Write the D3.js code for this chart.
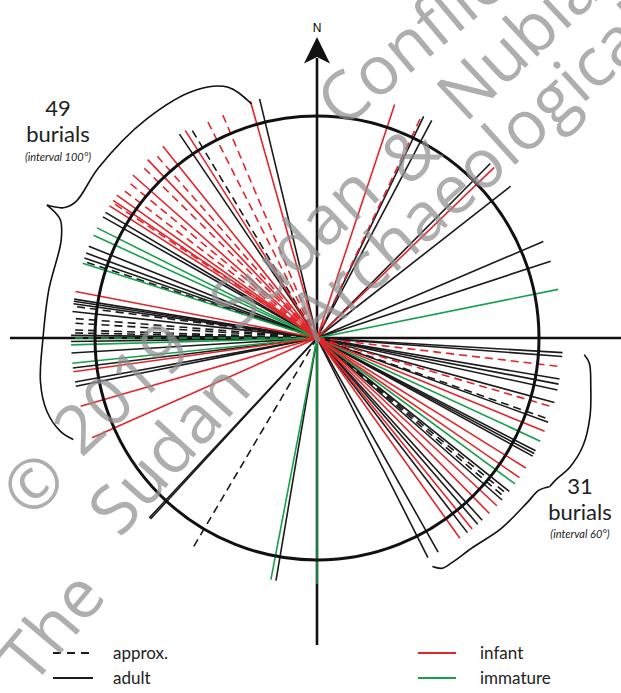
<!DOCTYPE html>
<html><head><meta charset="utf-8">
<script src="https://cdn.jsdelivr.net/npm/d3@7"></script>
<style>body{margin:0;background:#fff} svg{display:block}</style>
</head><body>
<svg id="c" width="621" height="693"></svg>
<script>
// ---- data: burial orientations (bearing in degrees, clockwise from N) ----
const adultSolid = [346.5, 326.0, 300.7, 299.5, 291.9, 290.2, 289.0, 279.1, 278.6, 278.0, 276.2, 270.6, 269.2, 266.5, 263.0, 259.7, 258.7,
  25.7, 27.8, 44.8, 51.9, 66.9, 71.8,
  93.4, 94.3, 99.6, 100.8, 102.2, 105.2, 110.0, 117.3, 118.0, 118.7, 128.6, 131.2, 137.8, 139.2, 142.3, 150.5, 153.2,
  222.6, 223.0, 189.6];
const adultApprox = [329.0, 288.2, 277.4, 274.6, 273.5, 271.9, 271.2, 109.3, 129.4, 130.3, 210.6];
const infantSolid = [344.3, 327.6, 321.2, 316.5, 311.5, 305.5, 304.0, 302.5, 280.9, 262.1, 253.9, 246.1,
  18.4, 46.1, 112.3, 121.9, 124.6, 133.0, 135.5, 140.9, 144.5];
const infantApprox = [337.1, 333.2, 318.7, 314.5, 309.6, 307.4, 303.5, 25.2, 96.7, 106.3];
const immatureSolid = [296.6, 294.7, 287.7, 268.4, 264.1, 78.6, 114.8, 126.4, 190.8, 180.0];
const immatureApprox = [270.0];

const groupLabels = ["49", "31"];
const groupIntervals = ["(interval 100°)", "(interval 60°)"];
const legendStyle = ["approx.", "adult"];
const legendAge = ["infant", "immature"];
// watermark words
const watermarkWords = ["Conflict", "©", "2019", "Sudan", "&", "Nubia", "The", "Sudan", "Archaeological"];

// ---- layout ----
const W = 621, H = 693, cx = 317, cy = 338, R = 222;
const rayLength = 1.108;
const colors = {adult: "#1a1a1a", infant: "#e2252b", immature: "#17a04b"};
const svg = d3.select("#c");
const rScale = d3.scaleLinear().domain([0, 1]).range([0, R]);
const aScale = d3.scaleLinear().domain([0, 360]).range([0, 2 * Math.PI]);
function pt(b, r) {
  const a = aScale(b), rr = rScale(r);
  return [cx + rr * Math.sin(a), cy - rr * Math.cos(a)];
}

// axes
const axisTop = 58, axisBottom = 645;
svg.append("line").attr("x1", cx).attr("x2", cx).attr("y1", axisTop).attr("y2", axisBottom)
  .attr("stroke", "#111").attr("stroke-width", 2.6);
svg.append("line").attr("x1", 10).attr("x2", W).attr("y1", cy).attr("y2", cy)
  .attr("stroke", "#111").attr("stroke-width", 2.6);
// north arrow
svg.append("path").attr("d", `M${cx},37 L${cx + 13},63.5 L${cx},57 L${cx - 13},63.5 Z`).attr("fill", "#111");
svg.append("text").attr("x", cx).attr("y", 32).attr("text-anchor", "middle")
  .attr("font-family", "Liberation Sans, Arial, sans-serif").attr("font-size", 12).text("N");

// rays
const rays = [];
adultSolid.forEach(b => rays.push({b, g: "adult", d: false}));
adultApprox.forEach(b => rays.push({b, g: "adult", d: true}));
immatureSolid.forEach(b => rays.push({b, g: "immature", d: false}));
immatureApprox.forEach(b => rays.push({b, g: "immature", d: true}));
infantSolid.forEach(b => rays.push({b, g: "infant", d: false}));
infantApprox.forEach(b => rays.push({b, g: "infant", d: true}));

svg.append("g").selectAll("line").data(rays).join("line")
  .attr("x1", cx).attr("y1", cy)
  .attr("x2", d => pt(d.b, rayLength)[0]).attr("y2", d => pt(d.b, rayLength)[1])
  .attr("stroke", d => colors[d.g]).attr("stroke-width", 1.6)
  .attr("stroke-dasharray", d => d.d ? "8,5" : null);

// circle
svg.append("circle").attr("cx", cx).attr("cy", cy).attr("r", rScale(1))
  .attr("fill", "none").attr("stroke", "#111").attr("stroke-width", 3);

// braces (polar points: bearing, radius in px)
const braceLine = d3.line().curve(d3.curveCatmullRom.alpha(0.5));
function polarPath(pts) { return braceLine(pts.map(p => pt(p[0], p[1] / R))); }
const braces = [
  [[344.4, 243], [340.5, 266], [334, 276], [322, 277.5], [308, 277], [299.5, 277], [297.2, 285], [296.2, 301]],
  [[296.2, 301], [294.8, 283], [291, 274], [280, 272.5], [270, 274], [261, 280], [255, 280], [250, 273], [247.4, 264]],
  [[93.6, 267.8], [95.3, 273.5], [100, 278], [106, 284], [112, 287], [117, 284], [120.5, 278], [122.6, 276]],
  [[122.6, 276], [124.5, 269], [128, 267], [136, 265], [143.3, 261], [149, 262], [151.5, 262], [153.2, 256]]
];
svg.append("g").selectAll("path").data(braces).join("path")
  .attr("d", polarPath).attr("fill", "none").attr("stroke", "#111").attr("stroke-width", 1.6);

// group labels
const lab = [{x: 58, y: [116, 142, 161]}, {x: 580, y: [494, 520, 538]}];
lab.forEach((l, i) => {
  svg.append("text").attr("x", l.x).attr("y", l.y[0]).attr("text-anchor", "middle")
    .attr("font-family", "Lato, sans-serif").attr("font-size", 22).attr("fill", "#222").text(groupLabels[i]);
  svg.append("text").attr("x", l.x).attr("y", l.y[1]).attr("text-anchor", "middle")
    .attr("font-family", "Lato, sans-serif").attr("font-size", 22).attr("fill", "#222").text("burials");
  svg.append("text").attr("x", l.x).attr("y", l.y[2]).attr("text-anchor", "middle")
    .attr("font-family", "Lato, sans-serif").attr("font-style", "italic").attr("font-size", 11).attr("fill", "#222").text(groupIntervals[i]);
});

// legend
const leg = svg.append("g").attr("font-family", "Lato, sans-serif").attr("font-size", 17).attr("fill", "#222");
[[53, 93, 653, colors.adult, "8,6", legendStyle[0], 113],
 [53, 93, 678, colors.adult, null, legendStyle[1], 113],
 [418, 456, 653, colors.infant, null, legendAge[0], 480],
 [418, 456, 678, colors.immature, null, legendAge[1], 480]].forEach(d => {
  leg.append("line").attr("x1", d[0]).attr("x2", d[1]).attr("y1", d[2]).attr("y2", d[2])
    .attr("stroke", d[3]).attr("stroke-width", 1.8).attr("stroke-dasharray", d[4]);
  leg.append("text").attr("x", d[6]).attr("y", d[2] + 6).text(d[5]);
});

// watermark (word centres and angles)
const wmPlace = [[417, 33, -40], [32, 482, -43], [120, 386, -43], [292, 245, -43], [408, 152, -43], [516, 40, -43],
                 [50, 625, -50], [167, 447, -48], [470, 170, -42]];
const wm = svg.append("g").attr("font-family", "Open Sans, sans-serif").attr("font-size", 68)
  .attr("fill", "#8f8f8f").attr("fill-opacity", 0.72).attr("text-anchor", "middle").attr("dominant-baseline", "central");
watermarkWords.forEach((w, i) => {
  const p = wmPlace[i];
  wm.append("text").attr("transform", `translate(${p[0]},${p[1]}) rotate(${p[2]})`).text(w);
});
</script>
</body></html>
